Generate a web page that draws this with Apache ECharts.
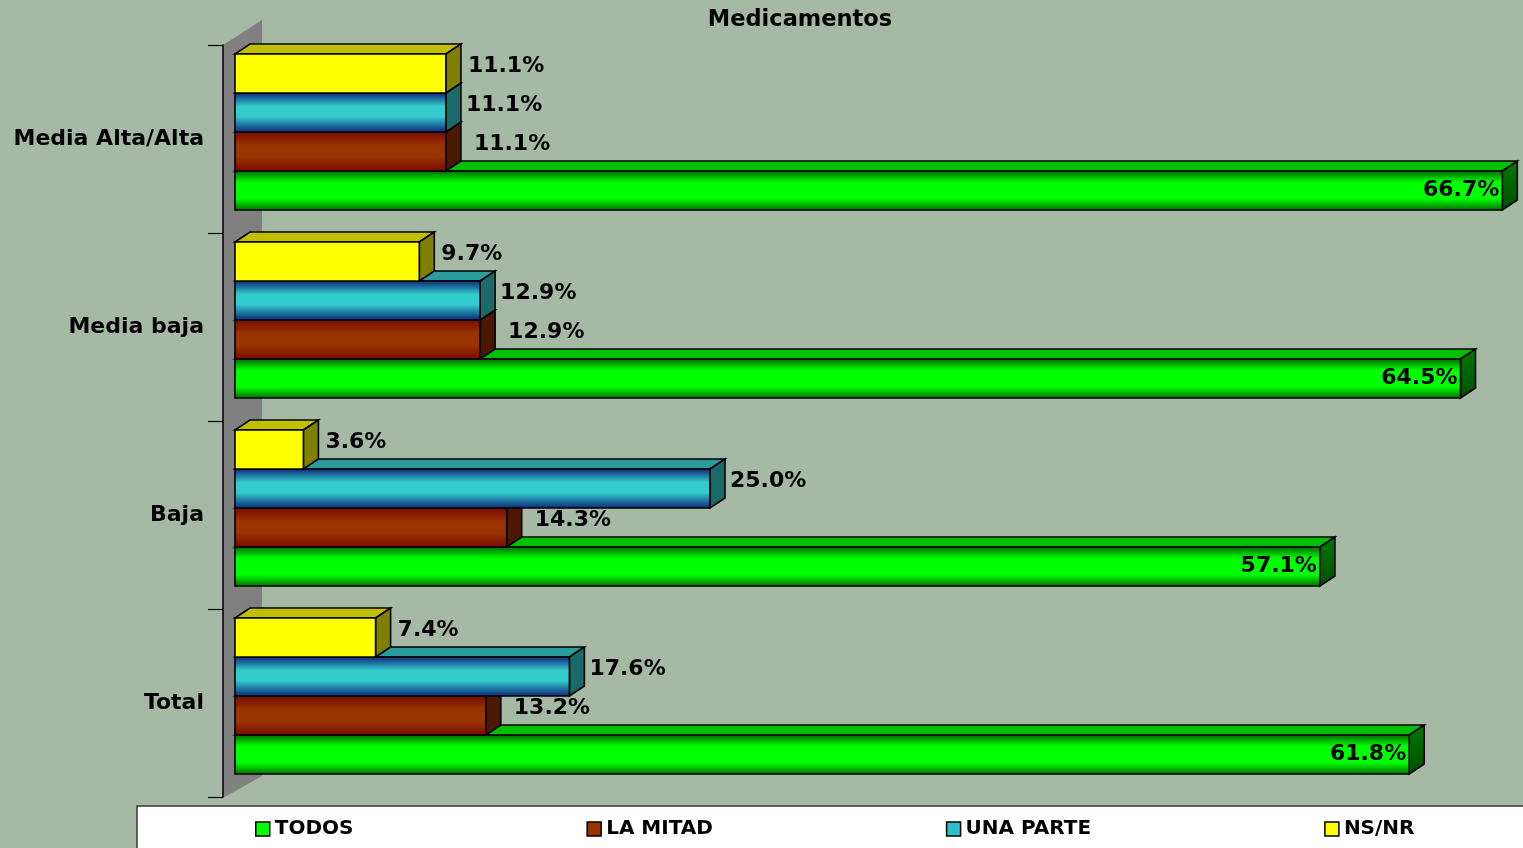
<!DOCTYPE html>
<html>
<head>
<meta charset="utf-8">
<script src="https://cdn.jsdelivr.net/npm/echarts@6/dist/echarts.min.js"></script>
<style>
  html, body { margin: 0; padding: 0; background: #A5B9A5; }
  #chart { width: 1523px; height: 848px; }
</style>
</head>
<body>
<div id="chart"></div>
<script>
// ---- data ----
const categories = ['Total', 'Baja', 'Media baja', 'Media Alta/Alta'];
const seriesNames = ['TODOS', 'LA MITAD', 'UNA PARTE', 'NS/NR'];
const todos    = [61.8, 57.1, 64.5, 66.7];
const laMitad  = [13.2, 14.3, 12.9, 11.1];
const unaParte = [17.6, 25.0, 12.9, 11.1];
const nsnr     = [7.4, 3.6, 9.7, 11.1];
const seriesValues = [todos, laMitad, unaParte, nsnr];

// ---- styles ----
function vgrad(stops) {
  return { type: 'linear', x: 0, y: 0, x2: 0, y2: 1,
    colorStops: stops.map(s => ({ offset: s[0], color: s[1] })) };
}
const looks = [
  { front: vgrad([[0,'#006000'],[0.3,'#00ff00'],[0.7,'#00ff00'],[1,'#006800']]), top: '#00c000', side: vgrad([[0,'#007800'],[1,'#005000']]), legend: '#00ff00', labelDx: -3, inside: true },
  { front: vgrad([[0,'#780800'],[0.35,'#993300'],[0.65,'#993300'],[1,'#780800']]), top: '#7a2400', side: '#4d1800', legend: '#993300', labelDx: 28 },
  { front: vgrad([[0,'#0a2278'],[0.35,'#33cccc'],[0.6,'#33cccc'],[1,'#0a2278']]), top: '#2a9c9c', side: '#1b6a6a', legend: '#2fbfc8', labelDx: 20 },
  { front: '#ffff00', top: '#c0c000', side: '#808000', legend: '#ffff00', labelDx: 22 }
];
const FONT = '"DejaVu Sans", sans-serif';
const DX = 15, DY = 10;      // 3D depth of a bar
const FRONT_SHIFT = 12;      // bars sit in front of the back wall

function makeRender(s) {
  const look = looks[s];
  return function (params, api) {
    const cat = api.value(1);
    const v = api.value(0);
    const p0 = api.coord([0, cat]);
    const p1 = api.coord([v, cat]);
    const h = api.size([0, 1])[1];
    const bh = h * 39 / 188;
    const top = p0[1] + h * 32 / 188 - s * bh;
    const x0 = p0[0] + FRONT_SHIFT, x1 = p1[0] + FRONT_SHIFT;
    const stroke = { stroke: '#000', lineWidth: 1.6 };
    const children = [
      { type: 'polygon', z2: s, shape: { points: [[x0, top], [x0 + DX, top - DY], [x1 + DX, top - DY], [x1, top]] },
        style: Object.assign({ fill: look.top }, stroke) },
      { type: 'polygon', z2: s, shape: { points: [[x1, top], [x1 + DX, top - DY], [x1 + DX, top + bh - DY], [x1, top + bh]] },
        style: Object.assign({ fill: look.side }, stroke) },
      { type: 'rect', z2: s, shape: { x: x0, y: top, width: x1 - x0, height: bh },
        style: Object.assign({ fill: look.front }, stroke) }
    ];
    const txt = v.toFixed(1) + '%';
    if (look.inside) {
      children.push({ type: 'text', z2: 100, x: x1 + look.labelDx, y: top + bh / 2,
        style: { text: txt, font: 'bold 22px ' + FONT, fill: '#000', align: 'right', verticalAlign: 'middle' } });
    } else {
      children.push({ type: 'text', z2: 100, x: x1 + look.labelDx, y: top + bh / 2 - 7,
        style: { text: txt, font: 'bold 22px ' + FONT, fill: '#000', align: 'left', verticalAlign: 'middle' } });
    }
    return { type: 'group', children: children };
  };
}

const chart = echarts.init(document.getElementById('chart'), null, { renderer: 'canvas' });
const option = {
  backgroundColor: '#A5B9A5',
  animation: false,
  title: {
    text: 'Medicamentos', left: 800, top: 8, textAlign: 'center', padding: 0,
    textStyle: { fontFamily: FONT, fontWeight: 'bold', fontSize: 22.5, color: '#000', lineHeight: 24 }
  },
  graphic: [
    { type: 'polygon', z: 0, shape: { points: [[223, 45], [262, 20], [262, 776], [223, 798]] },
      style: { fill: '#808080', stroke: 'none' } },
    { type: 'rect', z: 0, shape: { x: 137, y: 806, width: 1400, height: 60 },
      style: { fill: '#ffffff', stroke: '#3a3a3a', lineWidth: 1.5 } }
  ],
  legend: {
    left: 255, top: 819, padding: 0, itemGap: 233, itemWidth: 14, itemHeight: 14,
    icon: 'rect', z: 5,
    itemStyle: { borderColor: '#000', borderWidth: 1.5 },
    textStyle: { fontFamily: FONT, fontWeight: 'bold', fontSize: 20, color: '#000', lineHeight: 20 },
    data: seriesNames
  },
  grid: { left: 223, right: 27, top: 45, bottom: 51, containLabel: false },
  xAxis: {
    type: 'value', min: 0, max: 67, show: false
  },
  yAxis: {
    type: 'category', data: categories,
    axisLine: { show: true, lineStyle: { color: '#000', width: 1.5 } },
    axisTick: { show: true, inside: false, length: 15, lineStyle: { color: '#000', width: 1.2 } },
    axisLabel: { margin: 19, fontFamily: FONT, fontWeight: 'bold', fontSize: 22, color: '#000' },
    splitLine: { show: false }
  },
  series: seriesValues.map((vals, s) => ({
    type: 'custom',
    name: seriesNames[s],
    z: 2,
    itemStyle: { color: looks[s].legend },
    encode: { x: 0, y: 1 },
    data: vals.map((v, i) => [v, i]),
    renderItem: makeRender(s),
    clip: false
  }))
};
chart.setOption(option);
</script>
</body>
</html>
